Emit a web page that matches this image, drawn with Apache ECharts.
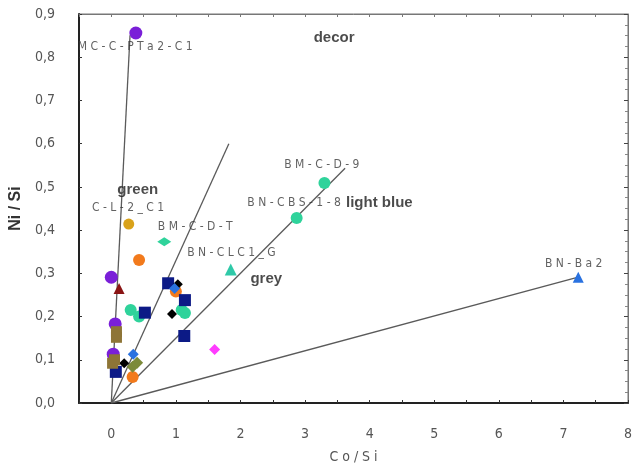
<!DOCTYPE html>
<html>
<head>
<meta charset="utf-8">
<script src="https://cdn.jsdelivr.net/npm/echarts@6/dist/echarts.min.js"></script>
<style>
html,body{margin:0;padding:0;background:#fff;}
#chart{width:635px;height:473px;}
</style>
</head>
<body>
<div id="chart"></div>
<script>
// ---- data (Co/Si, Ni/Si) ----
const purpleCircles = [[0.38,0.856],[0.0,0.291],[0.06,0.183],[0.03,0.113]];
const tealCircles = [[3.30,0.509],[2.87,0.428],[0.30,0.215],[0.43,0.200],[1.09,0.215],[1.14,0.208]];
const tealDiamonds = [[0.82,0.373]];
const tealTriangles = [[1.85,0.309]];
const orangeCircles = [[0.43,0.331],[1.00,0.258],[0.33,0.060]];
const goldCircles = [[0.27,0.414]];
const navySquares = [[0.88,0.277],[1.14,0.238],[0.52,0.209],[1.13,0.155],[0.07,0.072]];
const blackDiamonds = [[1.03,0.275],[0.94,0.206],[0.20,0.092]];
const blueDiamonds = [[0.98,0.265],[0.34,0.113]];
const blueTriangles = [[7.23,0.291]];
const magentaDiamonds = [[1.60,0.124]];
const darkRedTriangles = [[0.12,0.265]];
const brownSquares = [[0.08,0.165],[0.08,0.152],[0.02,0.092],[0.05,0.100]];
const oliveDiamonds = [[0.40,0.093],[0.33,0.084]];

// rays from origin (end points)
const rayEnds = [[0.29,0.851],[1.82,0.600],[3.62,0.543],[7.23,0.291]];

// sample annotations
const sampleTexts = ['MC-C-PTa2-C1','C-L-2_C1','BM-C-D-T','BN-CLC1_G','BM-C-D-9','BN-CBS-1-8','BN-Ba2'];
const sampleX = [0.37,0.26,1.30,1.86,3.26,2.83,7.16];
const sampleY = [0.824,0.451,0.408,0.347,0.551,0.463,0.322];

// group annotations
const groupTexts = ['decor','green','light blue','grey'];
const groupX = [3.45,0.41,4.15,2.40];
const groupY = [0.845,0.493,0.463,0.287];

// ticks
const xTicks = [0,1,2,3,4,5,6,7,8];

const chart = echarts.init(document.getElementById('chart'));

function sc(name, data, color, symbol, size) {
  return {
    type: 'scatter', name: name, data: data, symbol: symbol, symbolSize: size,
    itemStyle: {color: color, opacity: 1}, z: 5
  };
}

const series = [];
rayEnds.forEach(function(e){
  series.push({
    type: 'line', data: [[0,0], e], symbol: 'none', silent: true,
    lineStyle: {color: '#5a5a5a', width: 1.3}, z: 3
  });
});
series.push(sc('purple', purpleCircles, '#7a1fd8', 'circle', 13));
series.push(sc('teal', tealCircles, '#2fd39b', 'circle', 12));
series.push(sc('teal d', tealDiamonds, '#2fd39b', 'diamond', [14,9]));
series.push(sc('teal t', tealTriangles, '#2fc9a8', 'triangle', 12));
series.push(sc('orange', orangeCircles, '#f27a1c', 'circle', 12));
series.push(sc('gold', goldCircles, '#d9a21a', 'circle', 11));
series.push(sc('navy', navySquares, '#0c1a86', 'rect', 12));
series.push(sc('black', blackDiamonds, '#000000', 'diamond', 10));
series.push(sc('blue', blueDiamonds, '#2a72e0', 'diamond', 11));
series.push(sc('blue t', blueTriangles, '#2a72e0', 'triangle', 11));
series.push(sc('magenta', magentaDiamonds, '#ff3cff', 'diamond', 11));
series.push(sc('darkred', darkRedTriangles, '#8a1414', 'triangle', 11));
series.push(sc('brown', brownSquares, '#8e7536', 'rect', 11));
series.push(sc('olive', oliveDiamonds, '#7c8a3a', 'diamond', 12));

series.push({
  type: 'scatter', symbolSize: 0, silent: true, z: 10,
  data: sampleTexts.map(function(t,i){ return {name: t, value: [sampleX[i], sampleY[i]]}; }),
  label: {
    show: true, position: 'inside',
    formatter: function(p){ return p.name.split('').join(' '); },
    fontFamily: '"Liberation Sans Narrow","DejaVu Sans Condensed",sans-serif',
    fontSize: 12, color: '#3a3a3a'
  }
});
series.push({
  type: 'scatter', symbolSize: 0, silent: true, z: 10,
  data: groupTexts.map(function(t,i){ return {name: t, value: [groupX[i], groupY[i]]}; }),
  label: {
    show: true, position: 'inside',
    formatter: function(p){ return p.name; },
    fontFamily: '"Liberation Sans",Arial,sans-serif',
    fontSize: 15, fontWeight: 'bold', color: '#1e1e1e'
  }
});

const labelFont = '"Liberation Sans Narrow","DejaVu Sans Condensed",sans-serif';

chart.setOption({
  backgroundColor: '#ffffff',
  animation: false,
  grid: {left: 79, right: 0, top: 14, bottom: 70, show: true, borderColor: '#777', borderWidth: 1},
  xAxis: [{
    type: 'value', min: -0.5, max: 8, interval: 0.5,
    name: 'C o / S i', nameLocation: 'middle', nameGap: 47,
    nameTextStyle: {fontFamily: labelFont, fontSize: 14, color: '#555'},
    axisLine: {show: true, onZero: false, lineStyle: {color: '#222', width: 2}},
    axisTick: {show: true, inside: true, length: 3, lineStyle: {color: '#333'}},
    axisLabel: {
      margin: 24, fontFamily: labelFont, fontSize: 14, color: '#555',
      formatter: function(v){ return xTicks.indexOf(v) >= 0 ? String(v) : ''; }
    },
    splitLine: {show: false}
  }, {
    type: 'value', position: 'top', min: -0.5, max: 8, interval: 0.5,
    axisLine: {show: true, onZero: false, lineStyle: {color: '#777', width: 1}},
    axisTick: {show: true, inside: true, length: 3, lineStyle: {color: '#777'}},
    axisLabel: {show: false}, splitLine: {show: false}
  }],
  yAxis: [{
    type: 'value', min: 0, max: 0.9, interval: 0.1,
    name: 'Ni / Si', nameLocation: 'middle', nameGap: 45,
    nameTextStyle: {fontFamily: '"Liberation Sans",Arial,sans-serif', fontSize: 16, fontWeight: 'bold', color: '#333'},
    axisLine: {show: true, onZero: false, lineStyle: {color: '#222', width: 2}},
    axisTick: {show: true, inside: true, length: 3, lineStyle: {color: '#333'}},
    axisLabel: {
      margin: 24, fontFamily: labelFont, fontSize: 14, color: '#555',
      formatter: function(v){ return v.toFixed(1).replace('.', ','); }
    },
    splitLine: {show: false}
  }, {
    type: 'value', position: 'right', min: 0, max: 0.9, interval: 0.1,
    axisLine: {show: true, onZero: false, lineStyle: {color: '#777', width: 1}},
    axisTick: {show: true, inside: true, length: 4, lineStyle: {color: '#444'}},
    minorTick: {show: true, splitNumber: 4, length: 3, lineStyle: {color: '#888'}},
    axisLabel: {show: false}, splitLine: {show: false}
  }],
  series: series
});
</script>
</body>
</html>
